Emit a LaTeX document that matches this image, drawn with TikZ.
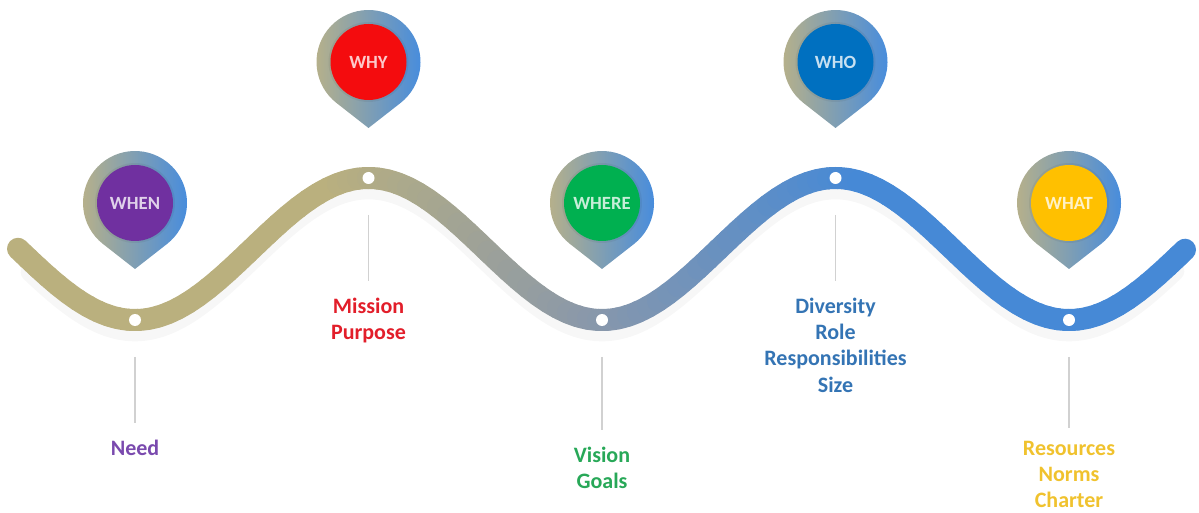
\documentclass[tikz,border=0pt]{standalone}
\usepackage{fontspec}
\setmainfont{Carlito}

\definecolor{bandL}{RGB}{186,176,126}
\definecolor{bandM}{RGB}{138,152,170}
\definecolor{bandR}{RGB}{70,137,214}
\definecolor{pinL}{RGB}{188,178,134}
\definecolor{pinR}{RGB}{70,140,222}
\definecolor{cwhen}{RGB}{112,48,160}
\definecolor{cwhy}{RGB}{244,12,14}
\definecolor{cwhere}{RGB}{0,176,80}
\definecolor{cwho}{RGB}{0,112,192}
\definecolor{cwhat}{RGB}{255,192,0}
\definecolor{tneed}{RGB}{122,74,174}
\definecolor{tmission}{RGB}{226,30,42}
\definecolor{tvision}{RGB}{40,168,88}
\definecolor{twho}{RGB}{52,116,180}
\definecolor{twhat}{RGB}{240,194,46}

\tikzset{
  stem/.style={draw=black!18, line width=1.2pt},
  blob/.style={circle, fill=white, inner sep=0pt, minimum size=9pt},
  pinlabel/.style={font={\bfseries\fontsize{14}{16}\selectfont}, inner sep=0.75pt},
  caption/.style={font={\bfseries\fontsize{16.5}{19.6}\selectfont}, align=center, anchor=north, inner sep=0pt},
}

\begin{document}
\begin{tikzpicture}[x=0.75pt,y=0.75pt,yscale=-1,xscale=1,
  declare function={wy(\t)=249+71*cos((\t-135)*0.770878);}]
\useasboundingbox (0,0) rectangle (1199,513);

% soft shadow under the wave
\draw[black!3, line width=14pt, line cap=round] plot[domain=30:1175, samples=240] (\x,{wy(\x)+12});

% wave, khaki to blue in short pieces
\foreach \i in {0,...,116}{
  \pgfmathsetmacro{\a}{18+10*\i}
  \pgfmathsetmacro{\b}{min(1185,\a+10)}
  \pgfmathtruncatemacro{\p}{min(200,max(0,(\a+5-330)/2.65))}
  \ifnum\p>100
    \pgfmathtruncatemacro{\q}{\p-100}
    \def\segcol{bandR!\q!bandM}
  \else
    \def\segcol{bandM!\p!bandL}
  \fi
  \draw[line width=16.5pt, line cap=round, color=\segcol] plot[domain=\a:\b, samples=5] (\x,{wy(\x)});
}

% dots on the wave
\node[blob] (d1) at (135,320) {};
\node[blob] (d2) at (368.5,178) {};
\node[blob] (d3) at (602,320) {};
\node[blob] (d4) at (835.5,178) {};
\node[blob] (d5) at (1069,320) {};

% pins
\foreach \x/\y/\c/\n/\t in {135/203/cwhen/when/WHEN, 368.5/62/cwhy/why/WHY, 602/203/cwhere/where/WHERE, 835.5/62/cwho/who/WHO, 1069/203/cwhat/what/WHAT}{
  \shade[left color=pinL, right color=pinR] (\x,\y) ++(128:52) arc[start angle=128, end angle=412, radius=52] -- (\x,{\y+66}) -- cycle;
  \fill[black, opacity=.05] (\x,\y) circle (40);
  \fill[\c] (\x,\y) circle (38);
  \node[pinlabel, text=white!78!\c] (\n) at (\x,\y) {\t};
}

% Text Node
\node[caption, text=tneed] (need) at (135,440) {Need};
% Text Node
\node[caption, text=tmission] (mission) at (368.5,298) {Mission\\Purpose};
% Text Node
\node[caption, text=tvision] (vision) at (602,447) {Vision\\Goals};
% Text Node
\node[caption, text=twho] (diversity) at (835.5,298) {Diversity\\Role\\Responsibilities\\Size};
% Text Node
\node[caption, text=twhat] (resources) at (1069,441) {Resources\\Norms\\Charter};

% stems
\draw[stem] ([yshift=23pt]d1.south) -- ([yshift=-12.5pt]need.north);
\draw[stem] ([yshift=23pt]d2.south) -- ([yshift=-12.5pt]mission.north);
\draw[stem] ([yshift=23pt]d3.south) -- ([yshift=-12.5pt]vision.north);
\draw[stem] ([yshift=23pt]d4.south) -- ([yshift=-12.5pt]diversity.north);
\draw[stem] ([yshift=23pt]d5.south) -- ([yshift=-10pt]resources.north);

\end{tikzpicture}
\end{document}
